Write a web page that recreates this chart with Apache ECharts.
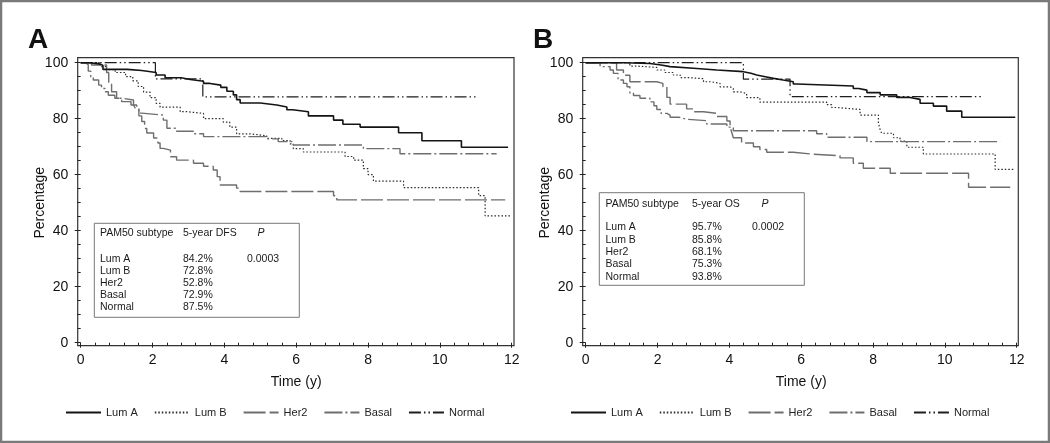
<!DOCTYPE html>
<html><head><meta charset="utf-8">
<script src="https://cdn.jsdelivr.net/npm/echarts@6/dist/echarts.min.js"></script>
<style>html,body{margin:0;padding:0;background:#fff}#c{width:1050px;height:443px}</style>
</head><body><div id="c"></div>
<script>
// ---- data ----
const subtypes = ['Lum A', 'Lum B', 'Her2', 'Basal', 'Normal'];
const xTicks = [0, 2, 4, 6, 8, 10, 12];
const yTicks = [0, 20, 40, 60, 80, 100];

// Panel A: disease-free survival (time in years, percentage)
const dfsLumA = [[0,100],[0.25,99.5],[0.55,99.0],[0.62,97.6],[1.3,97.2],[1.7,96.5],[2.1,95.6],[2.35,94.6],[2.8,94.0],[3.05,93.4],[3.42,92.6],[3.6,92.0],[3.9,91.2],[4.07,89.8],[4.25,88.5],[4.34,86.8],[4.44,85.6],[5.0,84.9],[5.46,84.2],[5.74,83.2],[5.9,82.5],[6.34,81.0],[7.04,79.5],[7.3,78.0],[7.78,77.0],[8.85,75.0],[9.5,72.1],[10.6,69.8],[11.9,69.8]];
const dfsLumB = [[0,100],[0.54,98.6],[0.7,97.5],[0.96,96.5],[1.25,95.0],[1.45,93.5],[1.6,91.5],[1.75,89.5],[1.93,87.5],[2.1,85.5],[2.21,84.1],[2.77,82.5],[2.95,81.9],[3.42,80.0],[3.97,78.8],[4.15,77.0],[4.34,74.6],[4.72,73.9],[5.18,73.0],[5.6,72.2],[5.83,71.0],[5.92,69.3],[6.2,68.1],[7.36,66.5],[7.6,65.2],[7.87,62.2],[8.0,60.0],[8.15,57.7],[8.99,55.4],[11.08,52.5],[11.26,45.3],[11.96,45.3]];
const dfsHer2 = [[0,100],[0.3,99.2],[0.72,96.5],[0.78,93.0],[0.86,89.6],[1.0,87.3],[1.14,86.1],[1.4,84.9],[1.56,83.8],[1.62,81.0],[1.7,79.0],[1.78,76.5],[1.84,74.9],[2.03,73.1],[2.15,71.3],[2.21,69.4],[2.3,68.8],[2.5,66.4],[2.67,65.2],[3.14,64.1],[3.42,63.0],[3.69,61.7],[3.8,59.3],[3.88,56.3],[4.34,55.2],[4.44,54.0],[7.04,52.5],[7.13,51.0],[11.82,51.0]];
const dfsBasal = [[0,100],[0.12,99.3],[0.21,97.0],[0.28,95.0],[0.35,93.8],[0.5,92.0],[0.58,90.8],[0.68,89.6],[0.77,88.4],[0.95,87.3],[1.14,86.7],[1.47,84.9],[1.52,83.8],[1.56,83.1],[1.62,82.0],[1.7,81.3],[2.3,79.5],[2.4,76.6],[2.67,75.5],[3.14,74.6],[3.42,73.6],[5.2,72.8],[5.5,71.8],[5.92,70.6],[7.87,69.3],[8.89,67.5],[11.58,67.5]];
const dfsNormal = [[0,100],[2.08,94.2],[3.4,87.8],[11.05,87.8]];

// Panel B: overall survival
const osLumA = [[0,100],[1.05,99.7],[1.79,99.2],[2.1,98.6],[2.35,98.0],[3.0,97.4],[3.65,96.8],[4.39,96.2],[4.6,95.6],[4.76,95.0],[5.0,94.4],[5.23,93.8],[5.5,93.2],[5.78,92.4],[5.88,91.7],[7.45,90.8],[7.6,90.2],[7.83,89.3],[8.2,88.5],[8.66,87.6],[9.03,86.9],[9.31,85.5],[9.68,84.5],[10.05,82.7],[10.47,80.5],[11.96,80.5]];
const osLumB = [[0,100],[1.23,98.8],[1.42,98.3],[1.98,97.4],[2.2,96.5],[2.44,95.6],[2.63,94.7],[2.81,94.3],[3.28,93.2],[3.5,92.6],[3.74,91.4],[4.02,90.8],[4.11,89.6],[4.3,89.0],[4.48,87.5],[4.85,85.9],[6.71,85.0],[6.85,84.0],[6.99,83.3],[7.64,81.3],[8.15,78.4],[8.2,76.0],[8.24,74.8],[8.57,73.2],[8.75,72.0],[8.94,69.8],[9.4,67.4],[11.4,61.9],[11.91,61.9]];
const osHer2 = [[0,100],[0.86,97.4],[1.05,95.5],[1.23,93.2],[1.98,92.6],[2.15,91.4],[2.26,87.6],[2.35,85.2],[2.81,83.5],[3.0,82.5],[3.28,81.9],[3.65,80.8],[3.93,79.2],[4.02,77.0],[4.07,75.0],[4.11,73.2],[4.34,71.3],[4.67,70.0],[4.85,69.0],[5.04,68.0],[5.78,67.3],[6.34,66.8],[7.08,66.0],[7.45,64.1],[7.73,62.3],[8.48,60.5],[10.66,55.5],[11.82,55.5]];
const osBasal = [[0,100],[0.4,98.6],[0.68,97.4],[0.77,96.2],[0.9,93.8],[1.05,92.6],[1.15,91.4],[1.23,89.2],[1.33,88.3],[1.51,87.3],[1.79,86.0],[1.9,84.6],[1.98,83.3],[2.1,81.9],[2.26,81.3],[2.35,80.5],[2.6,79.8],[2.81,79.3],[3.37,78.1],[3.93,77.0],[4.11,75.7],[6.43,74.6],[6.71,73.4],[7.83,71.8],[11.54,71.8]];
const osNormal = [[0,100],[4.39,94.1],[5.69,87.9],[11.08,87.9]];

// inset tables
const dfs5yr = ['84.2%', '72.8%', '52.8%', '72.9%', '87.5%'];
const os5yr = ['95.7%', '85.8%', '68.1%', '75.3%', '93.8%'];
const pDFS = '0.0003';
const pOS = '0.0002';

// ---- styles ----
const FONT = '"Liberation Sans", Arial, Helvetica, sans-serif';
const styles = {
  'Lum A': {color: '#141414', width: 1.6, type: 'solid'},
  'Lum B': {color: '#2a2a2a', width: 1.2, type: [1.5, 2]},
  'Her2': {color: '#6e6e6e', width: 1.4, type: [22, 4]},
  'Basal': {color: '#6e6e6e', width: 1.4, type: [18, 3, 2, 3]},
  'Normal': {color: '#1e1e1e', width: 1.2, type: [12, 3, 1.5, 3, 1.5, 3]}
};
const panelData = [
  [dfsLumA, dfsLumB, dfsHer2, dfsBasal, dfsNormal],
  [osLumA, osLumB, osHer2, osBasal, osNormal]
];

const gridL = [80.7, 585.7];
const gridTop = 62.7, gridW = 431, gridH = 280;

function xAxisFor(i) {
  return {
    type: 'value', gridIndex: i, min: 0, max: 12, interval: 2, offset: 3,
    axisLine: {show: false},
    axisTick: {show: true, length: 5, lineStyle: {color: '#222', width: 1}},
    minorTick: {show: true, splitNumber: 5, length: 3, lineStyle: {color: '#222', width: 1}},
    splitLine: {show: false},
    axisLabel: {color: '#111', fontSize: 14, fontFamily: FONT, margin: 7,
      formatter: v => xTicks.indexOf(v) >= 0 ? String(v) : ''},
    name: 'Time (y)', nameLocation: 'middle', nameGap: 29, nameMoveOverlap: false,
    nameTextStyle: {color: '#111', fontSize: 14, fontFamily: FONT}
  };
}
function yAxisFor(i) {
  return {
    type: 'value', gridIndex: i, min: 0, max: 100, interval: 20, offset: 3,
    axisLine: {show: false},
    axisTick: {show: true, length: 6, lineStyle: {color: '#222', width: 1}},
    minorTick: {show: true, splitNumber: 4, length: 3, lineStyle: {color: '#222', width: 1}},
    splitLine: {show: false},
    axisLabel: {color: '#111', fontSize: 14, fontFamily: FONT, margin: 9.5,
      formatter: v => yTicks.indexOf(v) >= 0 ? String(v) : ''},
    name: 'Percentage', nameLocation: 'middle', nameGap: 31, nameMoveOverlap: false,
    nameTextStyle: {color: '#111', fontSize: 14, fontFamily: FONT}
  };
}

const series = [];
[0, 1].forEach(p => {
  subtypes.forEach((name, k) => {
    const st = styles[name];
    series.push({
      type: 'line', name: name, xAxisIndex: p, yAxisIndex: p,
      data: panelData[p][k], step: 'end', symbol: 'none', showSymbol: false,
      clip: false, animation: false, z: name === 'Lum A' ? 5 : 3,
      lineStyle: {color: st.color, width: st.width, type: st.type},
      itemStyle: {color: st.color}
    });
  });
});

function tableGraphic(bx, by, bw, bh, headY, rowY0, rowStep, c1, c2, pCx, pvX, metric, vals, pval) {
  const t = (text, x, y, extra) => ({
    type: 'text', silent: true,
    style: Object.assign({text: text, x: x, y: y, fontSize: 10.5, fontFamily: FONT,
      fill: '#1a1a1a', verticalAlign: 'middle', align: 'left'}, extra || {})
  });
  const els = [{type: 'rect', silent: true, shape: {x: bx, y: by, width: bw, height: bh},
    style: {fill: '#fff', stroke: '#777', lineWidth: 1}}];
  els.push(t('PAM50 subtype', c1, headY));
  els.push(t(metric, c2, headY));
  els.push(t('P', pCx, headY, {align: 'center', fontStyle: 'italic'}));
  subtypes.forEach((s, i) => {
    els.push(t(s, c1, rowY0 + i * rowStep));
    els.push(t(vals[i], c2, rowY0 + i * rowStep));
  });
  els.push(t(pval, pvX, rowY0));
  return els;
}

const graphic = [
  {type: 'rect', silent: true, shape: {x: 1, y: 1, width: 1048, height: 441},
    style: {fill: 'none', stroke: '#7a7a7a', lineWidth: 2.5}},
  {type: 'rect', silent: true, shape: {x: 77.7, y: 57.7, width: 436.3, height: 288},
    style: {fill: 'none', stroke: '#333', lineWidth: 1.2}},
  {type: 'rect', silent: true, shape: {x: 582.7, y: 57.7, width: 435.6, height: 288},
    style: {fill: 'none', stroke: '#333', lineWidth: 1.2}},
  {type: 'text', silent: true, style: {text: 'A', x: 28, y: 40, fontSize: 28, fontWeight: 'bold',
    fontFamily: FONT, fill: '#111', verticalAlign: 'middle'}},
  {type: 'text', silent: true, style: {text: 'B', x: 533, y: 40, fontSize: 28, fontWeight: 'bold',
    fontFamily: FONT, fill: '#111', verticalAlign: 'middle'}}
].concat(
  tableGraphic(94.3, 223.3, 205, 94, 233, 259, 12.1, 100, 183, 261, 247, '5-year DFS', dfs5yr, pDFS),
  tableGraphic(599.3, 192.7, 205, 92.6, 204.3, 227.3, 12.35, 605.5, 692, 765, 752, '5-year OS', os5yr, pOS)
);

const legendBase = {
  data: subtypes, top: 407, padding: 0, itemWidth: 35, itemHeight: 10, itemGap: 16,
  itemStyle: {color: 'rgba(0,0,0,0)', borderColor: 'rgba(0,0,0,0)', borderWidth: 0},
  textStyle: {color: '#222', fontSize: 11, fontFamily: FONT},
  selectedMode: false
};

const chart = echarts.init(document.getElementById('c'), null, {renderer: 'canvas'});
chart.setOption({
  backgroundColor: '#fff',
  animation: false,
  grid: [
    {left: gridL[0], top: gridTop, width: gridW, height: gridH},
    {left: gridL[1], top: gridTop, width: gridW, height: gridH}
  ],
  xAxis: [xAxisFor(0), xAxisFor(1)],
  yAxis: [yAxisFor(0), yAxisFor(1)],
  legend: [
    Object.assign({}, legendBase, {left: 65}),
    Object.assign({}, legendBase, {left: 570})
  ],
  series: series,
  graphic: graphic
});
</script>
</body></html>
